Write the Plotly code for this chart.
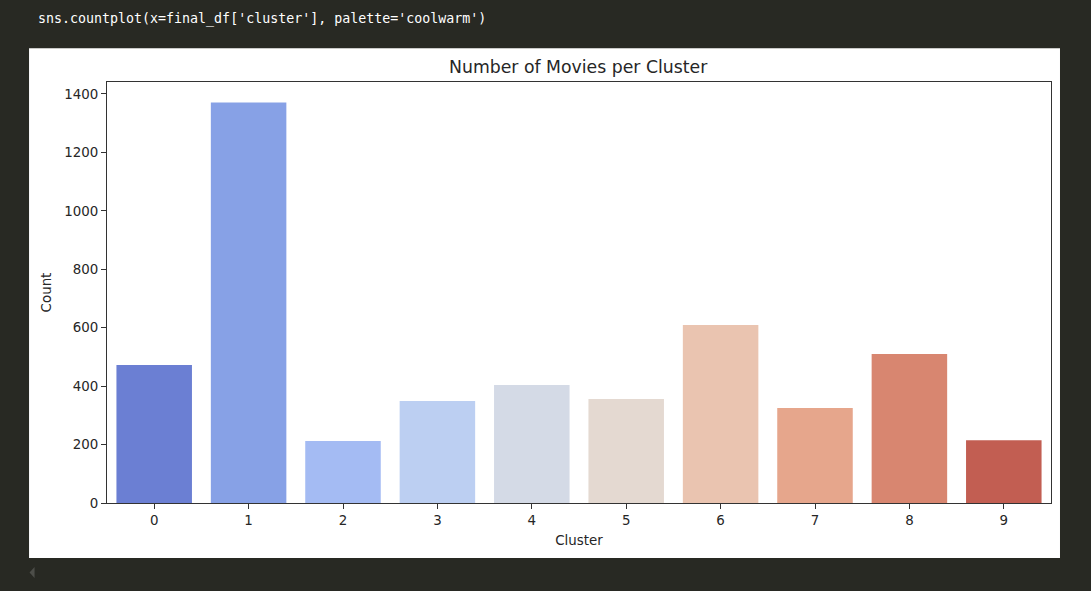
import plotly.graph_objects as go

clusters = ["0", "1", "2", "3", "4", "5", "6", "7", "8", "9"]
counts = [472, 1371, 212, 349, 404, 356, 609, 325, 510, 215]
colors = ["#6b7fd3", "#87a1e6", "#a4bbf3", "#bccff2", "#d4dae6",
          "#e4d9d1", "#eac4b0", "#e6a68c", "#d88670", "#c25e52"]
y_ticks = [0, 200, 400, 600, 800, 1000, 1200, 1400]

W, H = 1091, 591
L, R, T, B = 106.5, 1051, 81.7, 503
PW, PH = R - L, B - T
DARK = "#282923"
INK = "#262626"


def px(x):
    return (x - L) / PW


def py(y):
    return (B - y) / PH


font = dict(family="DejaVu Sans", size=13.4, color=INK)

fig = go.Figure(go.Bar(x=clusters, y=counts, marker=dict(color=colors, line_width=0),
                       width=0.8, hoverinfo="x+y"))

fig.update_layout(
    width=W, height=H, autosize=False,
    margin=dict(l=L, r=W - R, t=T, b=H - B, pad=0),
    paper_bgcolor=DARK, plot_bgcolor="#ffffff",
    showlegend=False, font=font,
    xaxis=dict(type="category", range=[-0.5, 9.5], showgrid=False, zeroline=False,
               showline=True, mirror=True, linecolor="#333333", linewidth=1,
               ticks="outside", ticklen=5, tickcolor="#333333", tickwidth=1,
               tickfont=font, title=dict(text="Cluster", font=font, standoff=8)),
    yaxis=dict(range=[0, 1441], tickvals=y_ticks, showgrid=False, zeroline=False,
               showline=True, mirror=True, linecolor="#333333", linewidth=1,
               ticks="outside", ticklen=5, tickcolor="#333333", tickwidth=1,
               tickfont=font, title=dict(text="Count", font=font, standoff=9)),
    shapes=[
        dict(type="rect", xref="paper", yref="paper", layer="below",
             x0=px(28.5), x1=px(1060), y0=py(558), y1=py(48),
             fillcolor="#ffffff", line_width=0),
        dict(type="path", xref="paper", yref="paper", layer="above",
             path=f"M {px(34)} {py(567)} L {px(29)} {py(572.5)} L {px(34)} {py(578)} Z",
             fillcolor="#4d4e49", line_width=0),
    ],
    annotations=[
        dict(text="Number of Movies per Cluster", xref="paper", yref="paper",
             x=px(578.5), y=py(66.5), xanchor="center", yanchor="middle", showarrow=False,
             font=dict(family="DejaVu Sans", size=17.3, color=INK)),
        dict(text="sns.countplot(x=final_df['cluster'], palette='coolwarm')",
             xref="paper", yref="paper", x=px(35.5), y=py(19), xanchor="left",
             yanchor="middle", showarrow=False,
             font=dict(family="DejaVu Sans Mono", size=13.3, color="#ffffff")),
    ],
)

fig.write_html(
    "out.html",
    config=dict(displayModeBar=False),
    post_script="document.body.style.margin='0';document.body.style.overflow='hidden';"
                f"document.body.style.background='{DARK}';",
)
